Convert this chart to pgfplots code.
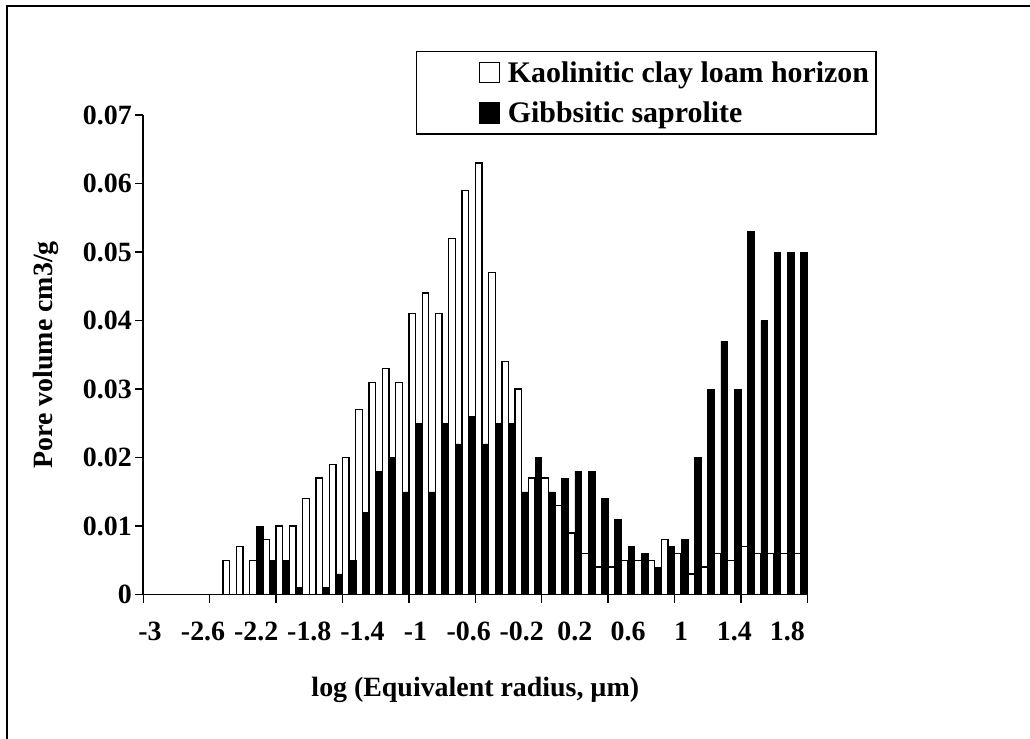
\documentclass[border=0pt]{standalone}
\usepackage{fontspec}
\setmainfont{Liberation Serif}
\usepackage{pgfplots}
\usepackage{pgfplotstable}
\pgfplotsset{compat=1.18}
\pgfplotstableread{
x white black
-3.0 0 0
-2.9 0 0
-2.8 0 0
-2.7 0 0
-2.6 0 0
-2.5 0 0
-2.4 0.005 0
-2.3 0.007 0
-2.2 0.005 0.010
-2.1 0.008 0.005
-2.0 0.010 0.005
-1.9 0.010 0.001
-1.8 0.014 0
-1.7 0.017 0.001
-1.6 0.019 0.003
-1.5 0.020 0.005
-1.4 0.027 0.012
-1.3 0.031 0.018
-1.2 0.033 0.020
-1.1 0.031 0.015
-1.0 0.041 0.025
-0.9 0.044 0.015
-0.8 0.041 0.025
-0.7 0.052 0.022
-0.6 0.059 0.026
-0.5 0.063 0.022
-0.4 0.047 0.025
-0.3 0.034 0.025
-0.2 0.030 0.015
-0.1 0.017 0.020
0.0 0.017 0.015
0.1 0.013 0.017
0.2 0.009 0.018
0.3 0.006 0.018
0.4 0.004 0.014
0.5 0.004 0.011
0.6 0.005 0.007
0.7 0.005 0.006
0.8 0.005 0.004
0.9 0.008 0.007
1.0 0.006 0.008
1.1 0.003 0.020
1.2 0.004 0.030
1.3 0.006 0.037
1.4 0.005 0.030
1.5 0.007 0.053
1.6 0.006 0.040
1.7 0.006 0.050
1.8 0.006 0.050
1.9 0.006 0.050
}\pores
\pgfplotsset{sqlegend/.style={legend image code/.code={\path (-57bp,0bp) (26bp,0bp); \draw[##1,line width=1.2bp] (0bp,-10bp) rectangle (20bp,10bp);}}}
\begin{document}
\begin{tikzpicture}
\useasboundingbox (0,0) rectangle (1030bp,-739bp);
\draw[line width=2.5bp] (7bp,-6bp) rectangle (1100bp,-800bp);
\begin{axis}[
  at={(143.3bp,-594.5bp)}, anchor=south west,
  scale only axis, width=664bp, height=479.5bp,
  xmin=-3.05, xmax=1.95, ymin=0, ymax=0.07,
  axis lines*=left,
  axis line style={line width=1.8bp,-},
  tick align=outside, major tick length=8bp, minor tick length=8bp,
  tick style={line width=1.5bp,black},
  scaled x ticks=false, scaled y ticks=false,
  xtick={-3,-2.6,-2.2,-1.8,-1.4,-1,-0.6,-0.2,0.2,0.6,1,1.4,1.8},
  xticklabels={-3,-2.6,-2.2,-1.8,-1.4,-1,-0.6,-0.2,0.2,0.6,1,1.4,1.8},
  major x tick style={draw=none},
  minor xtick={-3.05,-2.55,-2.05,-1.55,-1.05,-0.55,-0.05,0.45,0.95,1.45,1.95},
  minor x tick style={line width=1.5bp,black},
  ytick={0,0.01,0.02,0.03,0.04,0.05,0.06,0.07},
  yticklabels={0,0.01,0.02,0.03,0.04,0.05,0.06,0.07},
  ticklabel style={font=\fontsize{28}{28}\selectfont\bfseries},
  xticklabel style={yshift=-16bp},
  xlabel={log (Equivalent radius, µm)},
  ylabel={Pore volume cm3/g},
  label style={font=\fontsize{28}{28}\selectfont\bfseries},
  xlabel style={at={(axis description cs:0.5,-0.199)}, anchor=center},
  ylabel style={at={(axis description cs:-0.1465,0.5)}, anchor=center},
  legend style={at={(axis description cs:0.4107,1.1335)}, anchor=north west,
    draw=black, line width=1.2bp, font=\fontsize{30}{36}\selectfont\bfseries,
    inner xsep=5bp, inner ysep=8bp, row sep=14bp},
  legend cell align=left,
  clip=false,
]
\addplot[ybar, sqlegend, bar width=0.05, bar shift=-0.025, draw=black, fill=white, line width=1.3bp] table[x=x,y=white] {\pores};
\addplot[ybar, sqlegend, bar width=0.05, bar shift=0.025, draw=black, fill=black, line width=0.5bp] table[x=x,y=black] {\pores};
\legend{Kaolinitic clay loam horizon, Gibbsitic saprolite}
\end{axis}
\end{tikzpicture}
\end{document}
